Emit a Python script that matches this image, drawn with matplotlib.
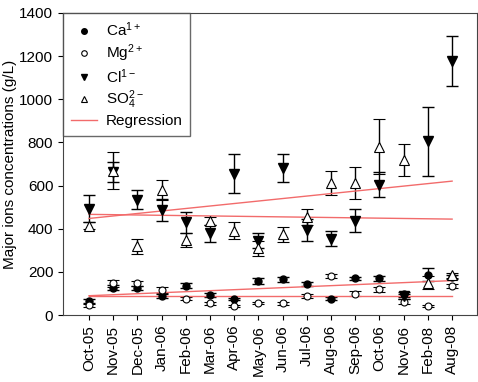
import numpy as np
import matplotlib
matplotlib.use('Agg')
import matplotlib.pyplot as plt
from matplotlib.lines import Line2D

plt.rcParams.update({'font.family': 'Liberation Sans', 'font.size': 11,
                     'mathtext.default': 'regular'})

months = ['Oct-05', 'Nov-05', 'Dec-05', 'Jan-06', 'Feb-06', 'Mar-06', 'Apr-06', 'May-06',
          'Jun-06', 'Jul-06', 'Aug-06', 'Sep-06', 'Oct-06', 'Nov-06', 'Feb-08', 'Aug-08']

ca = [66, 127, 127, 90, 136, 93, 74, 158, 167, 144, 77, 170, 170, 96, 188, 178]
ca_err = [8, 12, 10, 10, 12, 8, 6, 12, 12, 10, 8, 8, 12, 12, 30, 10]
mg = [46, 147, 147, 116, 77, 54, 42, 57, 54, 90, 181, 100, 120, 62, 43, 134]
mg_err = [6, 15, 12, 15, 8, 6, 6, 6, 6, 10, 8, 10, 12, 12, 6, 10]
cl = [494, 663, 535, 487, 430, 379, 655, 345, 680, 395, 355, 437, 605, 88, 805, 1178]
cl_err = [62, 45, 45, 50, 48, 40, 90, 35, 65, 50, 35, 53, 58, 12, 160, 115]
so4 = [415, 670, 320, 580, 348, 437, 392, 310, 375, 455, 613, 613, 780, 720, 150, 185]
so4_err = [18, 85, 35, 45, 33, 20, 38, 35, 35, 35, 57, 75, 128, 75, 30, 12]

# regression lines, start (Oct-05) and end (Aug-08) values
reg_cl = [448, 621]
reg_so4 = [467, 445]
reg_ca = [90, 160]
reg_mg = [88, 88]

x = np.arange(len(months))
RED = '#f26b6b'

fig, ax = plt.subplots(figsize=(4.78, 3.82), dpi=100)
fig.subplots_adjust(left=0.132, right=0.998, bottom=0.175, top=0.966)

eb = dict(ecolor='black', elinewidth=1, capsize=4, capthick=1, linestyle='none')
ax.errorbar(x, ca, yerr=ca_err, fmt='o', mfc='black', mec='black', ms=5, **eb)
ax.errorbar(x, mg, yerr=mg_err, fmt='o', mfc='white', mec='black', ms=5, mew=0.8, **eb)
ax.errorbar(x, cl, yerr=cl_err, fmt='v', mfc='black', mec='black', ms=7, **eb)
ax.errorbar(x, so4, yerr=so4_err, fmt='^', mfc='white', mec='black', ms=7, mew=0.8, **eb)

xr = [x[0], x[-1]]
for reg in (reg_cl, reg_so4, reg_ca, reg_mg):
    ax.plot(xr, reg, color=RED, lw=1)

ax.set_xlim(-1.07, 16.03)
ax.set_ylim(0, 1400)
ax.set_yticks(range(0, 1401, 200))
ax.set_xticks(x)
ax.set_xticklabels(months, rotation=90)
ax.set_ylabel('Major ions concentrations (g/L)', fontsize=11, labelpad=2)
for s in ax.spines.values():
    s.set_color('#444444')

handles = [
    Line2D([], [], ls='none', marker='o', mfc='black', mec='black', ms=4),
    Line2D([], [], ls='none', marker='o', mfc='white', mec='black', ms=4, mew=0.8),
    Line2D([], [], ls='none', marker='v', mfc='black', mec='black', ms=5),
    Line2D([], [], ls='none', marker='^', mfc='white', mec='black', ms=5, mew=0.8),
    Line2D([], [], color=RED, lw=1),
]
labels = ['Ca$^{1+}$', 'Mg$^{2+}$', 'Cl$^{1-}$', 'SO$_4^{2-}$', 'Regression']
leg = ax.legend(handles, labels, loc='upper left', frameon=True, fancybox=False,
                borderaxespad=0, handlelength=1.7, handletextpad=0.6, labelspacing=0.2,
                fontsize=11, borderpad=0.5)
leg.get_frame().set_edgecolor('#444444')
leg.get_frame().set_linewidth(1)

plt.savefig('out.png', dpi=100)
